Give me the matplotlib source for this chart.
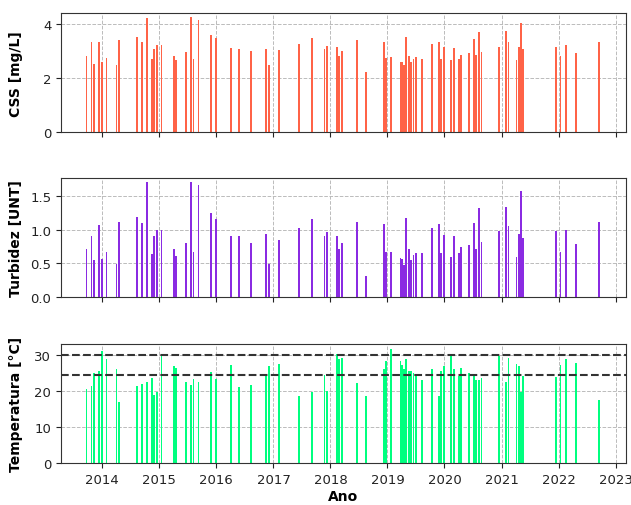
import matplotlib
matplotlib.use("Agg")
import matplotlib.pyplot as plt
import matplotlib.dates as mdates
import pandas as pd

dates = [
    "2013-09-22", "2013-10-24", "2013-11-11", "2013-12-13", "2013-12-29", "2014-01-28",
    "2014-04-02", "2014-04-19", "2014-08-09", "2014-09-10", "2014-10-13", "2014-11-14",
    "2014-11-30", "2014-12-15", "2015-01-15", "2015-04-04", "2015-04-20", "2015-06-23",
    "2015-07-25", "2015-08-08", "2015-09-09", "2015-11-28", "2016-01-02", "2016-04-04",
    "2016-05-26", "2016-08-13", "2016-11-16", "2016-12-01", "2017-02-06", "2017-06-14",
    "2017-09-04", "2017-11-24", "2017-12-08", "2018-02-10", "2018-02-26", "2018-03-14",
    "2018-06-18", "2018-08-19", "2018-12-09", "2018-12-25", "2019-01-26", "2019-03-25",
    "2019-04-05", "2019-04-16", "2019-05-01", "2019-05-17", "2019-06-01", "2019-06-17",
    "2019-07-02", "2019-08-09", "2019-10-13", "2019-11-27", "2019-12-12", "2019-12-28",
    "2020-02-12", "2020-02-29", "2020-04-04", "2020-04-17", "2020-06-04", "2020-07-07",
    "2020-07-20", "2020-08-07", "2020-08-25", "2020-12-14", "2021-01-31", "2021-02-14",
    "2021-04-06", "2021-04-20", "2021-05-05", "2021-05-20", "2021-12-17", "2022-01-13",
    "2022-02-16", "2022-04-23", "2022-09-15",
]

css = [
    2.83, 3.34, 2.52, 3.34, 2.61, 2.75, 2.48, 3.42, 3.54, 3.34, 4.21, 2.72,
    3.08, 3.23, 3.23, 2.83, 2.68, 2.96, 4.25, 2.72, 4.16, 3.59, 3.47, 3.12,
    3.07, 2.99, 3.08, 2.48, 3.03, 3.27, 3.47, 3.07, 3.19, 3.16, 2.80, 2.99,
    3.42, 2.21, 3.34, 2.75, 2.78, 2.60, 2.58, 2.47, 3.54, 2.81, 2.60, 2.72,
    2.78, 2.72, 3.28, 3.34, 2.72, 3.16, 2.68, 3.12, 2.72, 2.85, 2.93, 3.43,
    2.85, 3.71, 2.97, 3.16, 3.74, 3.34, 2.68, 3.16, 4.05, 3.07, 3.16, 2.80,
    3.24, 2.93, 3.32,
]

turbidez = [
    0.71, 0.91, 0.55, 1.07, 0.57, 0.67, 0.49, 1.12, 1.19, 1.10, 1.70, 0.64,
    0.91, 1.00, 1.00, 0.72, 0.61, 0.81, 1.70, 0.67, 1.66, 1.24, 1.16, 0.91,
    0.91, 0.80, 0.94, 0.49, 0.85, 1.02, 1.16, 0.91, 0.97, 0.91, 0.71, 0.80,
    1.12, 0.32, 1.08, 0.67, 0.67, 0.58, 0.56, 0.48, 1.18, 0.72, 0.55, 0.62,
    0.66, 0.66, 1.02, 1.08, 0.66, 0.92, 0.60, 0.91, 0.66, 0.74, 0.77, 1.10,
    0.72, 1.32, 0.82, 0.98, 1.34, 1.05, 0.60, 0.93, 1.57, 0.88, 0.98, 0.67,
    1.00, 0.79, 1.12,
]

temperatura = [
    20.7, 21.5, 25.0, 25.6, 31.3, 28.9, 26.3, 17.1, 21.5, 22.1, 22.7, 23.8,
    19.1, 19.8, 30.4, 27.1, 26.5, 22.7, 21.8, 23.5, 22.7, 25.4, 23.5, 27.4,
    21.2, 21.8, 24.6, 27.1, 27.7, 18.6, 19.8, 24.5, 20.0, 30.3, 28.9, 29.4,
    22.4, 18.6, 26.2, 28.5, 31.8, 28.5, 27.3, 26.2, 28.9, 25.7, 25.6, 25.2,
    24.7, 23.2, 26.2, 18.8, 25.6, 27.1, 29.9, 26.3, 24.4, 26.5, 25.0, 24.2,
    23.3, 23.3, 23.6, 29.8, 22.6, 29.2, 27.7, 27.0, 19.9, 24.3, 24.1, 27.4,
    29.1, 28.0, 17.7,
]

ref_lines = [30.0, 24.7]

panels = [
    ("CSS [mg/L]", css, "#ff6347", (0, 4.4), [0, 2, 4], ["0", "2", "4"]),
    ("Turbidez [UNT]", turbidez, "#8a2be2", (0, 1.76), [0, 0.5, 1.0, 1.5], ["0.0", "0.5", "1.0", "1.5"]),
    ("Temperatura [°C]", temperatura, "#00ff7f", (0, 33.2), [0, 10, 20, 30], ["0", "10", "20", "30"]),
]

x = pd.to_datetime(dates)

fig = plt.figure(figsize=(6.31, 5.06), dpi=100)
left, width = 61 / 631, (626 - 61) / 631
tops = [14.3, 179.3, 345]
bottoms = [133, 298.3, 464.3]
axes = []
for i in range(3):
    ax = fig.add_axes([left, 1 - bottoms[i] / 506, width, (bottoms[i] - tops[i]) / 506])
    axes.append(ax)

xmin = pd.Timestamp("2013-04-12")
xmax = pd.Timestamp("2023-03-08")
for i, (ax, (label, vals, color, ylim, yt, ytl)) in enumerate(zip(axes, panels)):
    ax.set_axisbelow(True)
    ax.grid(True, linestyle="--", color="#bbbbbb", linewidth=0.7)
    ax.bar(x, vals, width=12, color=color, align="center", linewidth=0)
    ax.set_xlim(xmin, xmax)
    ax.set_ylim(*ylim)
    ax.set_yticks(yt)
    ax.set_yticklabels(ytl)
    ax.set_ylabel(label, fontsize=10, fontweight="bold")
    ax.xaxis.set_major_locator(mdates.YearLocator())
    ax.xaxis.set_major_formatter(mdates.DateFormatter("%Y"))
    ax.tick_params(labelsize=9.5, colors="#222222")
    for s in ax.spines.values():
        s.set_color("#333333")
    if i < 2:
        ax.tick_params(axis="x", labelbottom=False)
    ax.yaxis.set_label_coords(-0.068, 0.5)

for v in ref_lines:
    axes[2].axhline(v, color="#333333", linestyle="--", linewidth=1.5)

axes[2].set_xlabel("Ano", fontsize=10, fontweight="bold", labelpad=2)

fig.savefig("out.png", dpi=100)
